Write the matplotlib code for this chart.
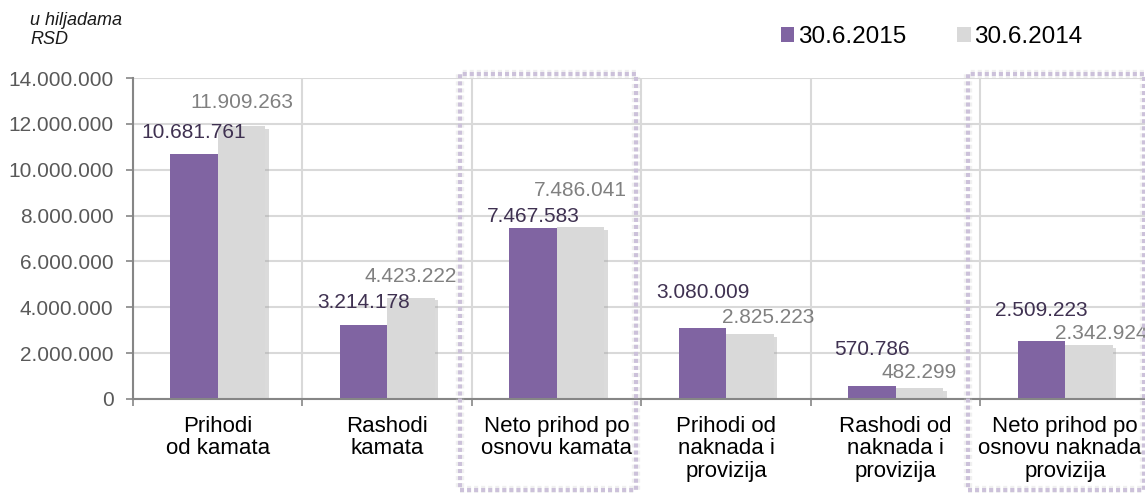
import matplotlib
matplotlib.use("Agg")
import matplotlib.pyplot as plt
import matplotlib.patheffects as pe
from matplotlib.patches import Rectangle, Patch
import matplotlib.transforms as mtransforms
import numpy as np

plt.rcParams['font.family'] = ['Liberation Sans', 'DejaVu Sans']

# ---- data ----
categories = ["Prihodi\nod kamata", "Rashodi\nkamata", "Neto prihod po\nosnovu kamata",
              "Prihodi od\nnaknada i\nprovizija", "Rashodi od\nnaknada i\nprovizija",
              "Neto prihod po\nosnovu naknada i\nprovizija"]
series_2015 = [10681761, 3214178, 7467583, 3080009, 570786, 2509223]
series_2014 = [11909263, 4423222, 7486041, 2825223, 482299, 2342924]
series_names = ["30.6.2015", "30.6.2014"]
y_ticks = [0, 2000000, 4000000, 6000000, 8000000, 10000000, 12000000, 14000000]
highlighted = [2, 5]

# ---- styling / label offsets (pixels) ----
purple = "#8064a2"
grey = "#d9d9d9"
lab_off_2015 = [22, 23, 11, 36, 36, 31]
lab_off_2014 = [23, 21, 37, 17, 15, 12]
lab_dx_2014 = [0, 0, 0, 18, 0, 12]


def fmt(v):
    return f"{v:,}".replace(",", ".")


W, H, DPI = 1145, 493, 100
fig = plt.figure(figsize=(W / DPI, H / DPI), dpi=DPI)
ax = fig.add_axes([133 / W, (H - 399) / H, 1017 / W, 321 / H])

x = np.arange(len(categories))
bw = 0.28
shadow = [pe.SimplePatchShadow(offset=(2.5, -2), shadow_rgbFace='#9a9a9a', alpha=0.35), pe.Normal()]
b1 = ax.bar(x - bw / 2, series_2015, bw, color=purple, zorder=3)
b2 = ax.bar(x + bw / 2, series_2014, bw, color=grey, zorder=3, path_effects=shadow)

ax.set_xlim(-0.5, len(categories) - 0.5)
ax.set_ylim(0, 14000000)
ax.set_yticks(y_ticks)
ax.set_yticklabels([fmt(v) for v in y_ticks], fontsize=15, color="#595959")
ax.set_xticks(x)
ax.set_xticklabels(categories, fontsize=16, color="black", linespacing=1.1)
ax.set_xticks(np.arange(len(categories) + 1) - 0.5, minor=True)
ax.tick_params(axis='x', which='major', length=0, pad=12)
ax.tick_params(axis='x', which='minor', length=5, width=1.2, color="#868686", direction='out')
ax.tick_params(axis='y', length=5, width=1.2, color="#868686", pad=9, direction='out')

ax.grid(axis='y', which='major', color="#d9d9d9", linewidth=1.5, zorder=0)
ax.grid(axis='x', which='minor', color="#d9d9d9", linewidth=1.5, zorder=0)
ax.set_axisbelow(True)
for s in ['top', 'right']:
    ax.spines[s].set_visible(False)
for s in ['left', 'bottom']:
    ax.spines[s].set_color("#868686")
    ax.spines[s].set_linewidth(1.5)
    ax.spines[s].set_zorder(4)

# data labels
for i in range(len(categories)):
    ax.annotate(fmt(series_2015[i]), (x[i] - bw / 2, series_2015[i]),
                xytext=(0, lab_off_2015[i] * 72 / DPI), textcoords='offset points',
                ha='center', va='center', fontsize=15, color="#3f3151")
    ax.annotate(fmt(series_2014[i]), (x[i] + bw / 2, series_2014[i]),
                xytext=(lab_dx_2014[i] * 72 / DPI, lab_off_2014[i] * 72 / DPI),
                textcoords='offset points',
                ha='center', va='center', fontsize=15, color="#808080")

# highlight boxes (dotted)
trans = mtransforms.blended_transform_factory(ax.transData, ax.transAxes)
box_shadow = [pe.SimpleLineShadow(offset=(0, 0), shadow_color='#d0d0d0', alpha=0.3, linewidth=6), pe.Normal()]
for idx in highlighted:
    r = Rectangle((idx - 0.572, -0.2835), 1.038, 1.296, transform=trans, fill=False,
                  edgecolor="#ccc1da", linewidth=2.9, linestyle=(0, (1.0, 0.75)),
                  clip_on=False, zorder=5)
    r.set_path_effects(box_shadow)
    ax.add_patch(r)

# unit label
fig.text(30 / W, 1 - 12 / H, "u hiljadama\nRSD", fontsize=13, style='italic',
         ha='left', va='top', color="#1a1a1a", linespacing=1.15)

# legend
handles = [Patch(facecolor=purple, edgecolor='none'), Patch(facecolor=grey, edgecolor='none')]
fig.legend(handles, series_names, loc='center left', bbox_to_anchor=(781 / W, 1 - 37 / H),
           ncol=2, frameon=False, fontsize=17.5, handlelength=0.55, handleheight=0.55,
           handletextpad=0.15, columnspacing=2.1, borderpad=0, borderaxespad=0)

fig.savefig("out.png", dpi=DPI)
